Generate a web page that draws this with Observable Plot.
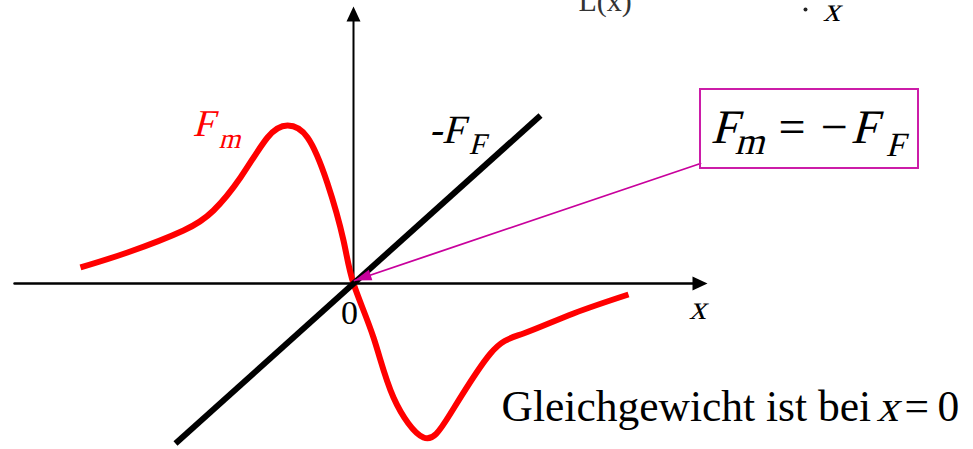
<!DOCTYPE html>
<html>
<head>
<meta charset="utf-8">
<script src="https://cdn.jsdelivr.net/npm/d3@7"></script>
<script src="https://cdn.jsdelivr.net/npm/@observablehq/plot@0.6"></script>
<style>
  html, body { margin: 0; padding: 0; background: #fff; }
  #chart svg { display: block; }
</style>
</head>
<body>
<div id="chart"></div>
<script>
// Magnetic force F_m and the (negated) spring force -F_F versus displacement x.
// Units are arbitrary; origin is the equilibrium point.

// F_m(x): restoring magnetic force, sampled along the curve
const fmX = [-2.73, -2.26, -1.70, -1.40, -1.13, -0.86, -0.66, -0.46, -0.26, -0.10, 0.00, 0.20, 0.40, 0.70, 0.97, 1.37, 1.70, 2.20, 2.75];
const fmY = [ 0.16,  0.31,  0.53,  0.73,  1.06,  1.46,  1.58,  1.46,  1.00,  0.43, 0.00, -0.54, -1.14, -1.54, -1.30, -0.70, -0.50, -0.30, -0.11];

// -F_F(x): straight line through the origin
const ffX = [-1.78, 1.87];
const ffY = [-1.60, 1.68];

// axes extents (tips of the arrows)
const xAxisX = [-3.39, 3.54];
const yAxisY = [0, 2.77];

// pointer from the equation box to the equilibrium point
const ptrX = [3.47, 0.01];
const ptrY = [1.20, 0.03];

// equation box
const box = [{x1: 3.47, x2: 5.65, y1: 1.15, y2: 1.94}];

const serif = "'Liberation Serif', 'Times New Roman', serif";

// Filled arrowheads with the tip at the anchor point, pointing up before rotation
function head(len, halfWidth) {
  return {
    draw(ctx) {
      ctx.moveTo(0, 0);
      ctx.lineTo(-halfWidth, len);
      ctx.lineTo(halfWidth, len);
      ctx.closePath();
    }
  };
}
const axisHead = head(15, 7);
const ptrHead = head(17, 5.5);

// Text whose y is given as the baseline (data units); math symbols are slanted
function label(text, x, yBase, size, opts = {}) {
  return Plot.text([text], {
    x: () => x, y: () => yBase, text: d => d,
    fontFamily: serif, fontSize: size,
    textAnchor: opts.anchor ?? "start",
    fill: opts.fill ?? "#000",
    dy: -0.32 * size,
    ariaDescription: opts.italic ? "math" : "label"
  });
}

const chart = Plot.plot({
  width: 973,
  height: 449,
  margin: 0,
  style: {background: "#fff"},
  x: {domain: [-3.53, 6.20], axis: null},
  y: {domain: [-1.66, 2.83], axis: null},
  marks: [
    // axes with filled arrowheads
    Plot.line([xAxisX[0], xAxisX[1] - 0.1], {x: d => d, y: () => 0, stroke: "#000", strokeWidth: 2.5}),
    Plot.line([yAxisY[0], yAxisY[1] - 0.1], {x: () => 0, y: d => d, stroke: "#000", strokeWidth: 2}),
    Plot.dot([xAxisX[1]], {x: d => d, y: () => 0, symbol: axisHead, r: 5, fill: "#000", stroke: "none", rotate: 90}),
    Plot.dot([yAxisY[1]], {x: () => 0, y: d => d, symbol: axisHead, r: 5, fill: "#000", stroke: "none", rotate: 0}),

    // F_m
    Plot.line(fmX.map((x, i) => ({x, y: fmY[i]})), {x: "x", y: "y", curve: "natural", stroke: "#ff0000", strokeWidth: 6, strokeLinecap: "butt"}),
    // -F_F
    Plot.line(ffX.map((x, i) => ({x, y: ffY[i]})), {x: "x", y: "y", stroke: "#000", strokeWidth: 6, strokeLinecap: "butt"}),

    // pointer and box
    Plot.line(ptrX.map((x, i) => ({x, y: ptrY[i]})), {x: "x", y: "y", stroke: "#c8009c", strokeWidth: 1.8}),
    Plot.dot([0], {x: () => ptrX[1], y: () => ptrY[1], symbol: ptrHead, r: 5, fill: "#c8009c", stroke: "none", rotate: -108.7}),
    Plot.rect(box, {x1: "x1", x2: "x2", y1: "y1", y2: "y2", fill: "none", stroke: "#cc1ca8", strokeWidth: 2}),

    // curve labels
    label("F", -1.61, 1.48, 38, {italic: true, fill: "#ff0000"}),
    label("m", -1.35, 1.36, 28, {italic: true, fill: "#ff0000"}),
    label("-F", 0.75, 1.41, 40, {italic: true}),
    label("F", 1.15, 1.30, 30, {italic: true}),

    // equation in the box
    label("F", 3.57, 1.41, 48, {italic: true}),
    label("m", 3.81, 1.30, 38, {italic: true}),
    label("=", 4.25, 1.41, 48),
    label("\u2212", 4.67, 1.41, 48),
    label("F", 4.97, 1.41, 48, {italic: true}),
    label("F", 5.32, 1.28, 34, {italic: true}),

    // axis labels
    label("0", -0.04, -0.40, 34, {anchor: "middle"}),
    label("x", 3.44, -0.35, 34, {anchor: "middle", italic: true}),

    // caption
    label("Gleichgewicht ist bei", 1.48, -1.37, 43.5),
    label("x", 5.23, -1.37, 43.5, {italic: true}),
    label("=", 5.51, -1.37, 43.5),
    label("0", 5.84, -1.37, 43.5),

    // remains of the heading above
    label("L(x)", 2.25, 2.73, 30, {fill: "#333"}),
    Plot.dot([0], {x: () => 4.52, y: () => 2.74, r: 2, fill: "#222", stroke: "none"}),
    label("x", 4.78, 2.63, 34, {anchor: "middle", italic: true})
  ]
});

document.getElementById("chart").append(chart);

// slant the math symbols about their baseline
chart.querySelectorAll('g[aria-description="math"] text').forEach(t => {
  const fs = parseFloat(getComputedStyle(t).fontSize) || 0;
  const tr = t.getAttribute("transform") || "";
  t.removeAttribute("y");
  t.setAttribute("transform", `${tr} translate(0,${0.32 * fs}) skewX(-15)`);
});
</script>
</body>
</html>
